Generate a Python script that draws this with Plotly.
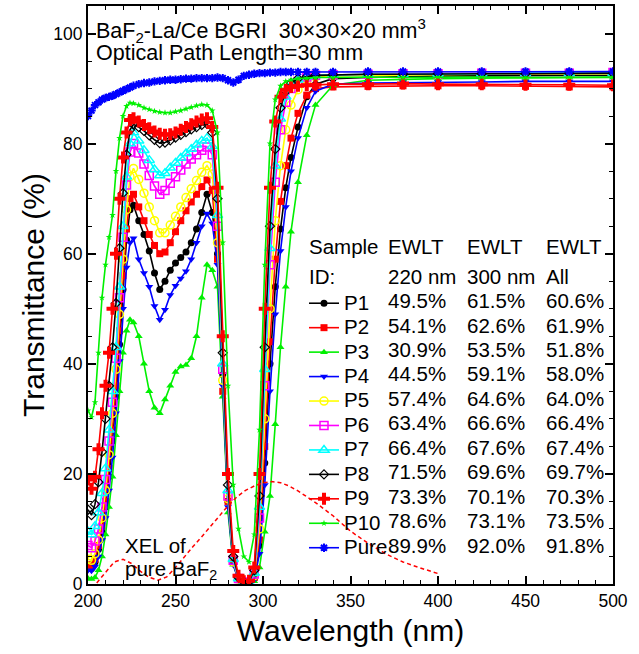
import plotly.graph_objects as go

# ---------------- data ----------------
wavelength = [200, 202, 204, 206, 208, 210, 212, 214, 216, 218, 220, 222, 224, 226,
              229, 232, 235, 238, 241, 244, 247, 250, 253, 256, 259, 262, 265, 268,
              271, 274, 277, 280, 283, 286, 289, 292, 295, 298, 301, 304, 307, 310, 313, 316,
              320, 325, 330, 340, 360, 380, 400, 425, 450, 475, 500]

p1 = [3, 2.8, 4, 6.3, 9.5, 14, 19.5, 26, 34, 43.5, 53.5, 62.5, 68, 68.8,
      66, 63.5, 60.5, 56.5, 53.5, 55, 57, 58.3, 59.3, 60.3, 62, 64.5, 67.5, 70.8,
      67.5, 60, 38, 15, 4, 0.8, 0.3, 0.3, 1, 7, 22, 40, 54, 64.5, 72, 77.5,
      83, 88.5, 90.8, 91.8, 92, 92.2, 92.3, 92.3, 92.4, 92.4, 92.4]
p2 = [3.5, 3.3, 4.5, 7, 10.5, 15, 21, 28, 36, 46, 56, 64.5, 70, 70.8,
      68.5, 66, 63.5, 61.5, 60, 60.3, 62, 64, 66, 67.8, 69.4, 70.8, 72.2, 73.4,
      71.5, 59, 35, 15, 4, 0.8, 0.3, 0.3, 1.2, 8, 25, 44, 59, 69.5, 76, 81,
      85.5, 88.8, 90, 90.3, 90.4, 90.5, 90.5, 90.5, 90.4, 90.3, 90.3]
p3 = [1, 0.9, 1.2, 2.5, 5, 9, 14, 19.5, 27, 35, 42, 46, 48, 47.5,
      45, 40, 35, 32, 31, 33.5, 36, 38.5, 39.5, 39.8, 41, 45, 52, 58,
      57, 54, 34, 13, 3.5, 0.7, 0.2, 0.2, 0.5, 3, 9.5, 16, 29, 43, 54, 64,
      73, 81.5, 87, 90.6, 91.5, 91.7, 91.8, 91.9, 91.9, 92, 92]
p4 = [2.5, 2.4, 3.2, 5, 8, 12, 17, 23, 31, 40.5, 50, 57.5, 62, 62.8,
      59, 56.5, 54, 50.5, 48, 49.8, 52.5, 54.2, 55.5, 56.8, 59, 62, 65, 67.3,
      65.5, 58, 36, 14, 3.5, 0.7, 0.2, 0.2, 0.8, 5.5, 18, 35, 49, 60.5, 68.5, 75,
      81, 86.5, 89.5, 90.8, 91, 91.1, 91.2, 91.2, 91.3, 91.3, 91.3]
p5 = [4.5, 4.3, 5.5, 8, 12, 17, 23.5, 31, 39, 49, 59, 68, 74, 75.5,
      73.5, 71, 68.5, 66, 63.8, 63.8, 65.2, 66.8, 68.5, 70.2, 71.8, 73.3, 74.8, 76,
      74.5, 62, 37, 15.5, 4, 0.9, 0.3, 0.3, 1.5, 10, 30, 50, 66, 76, 82.5, 87,
      89.8, 91.5, 92.1, 92.3, 92.4, 92.5, 92.5, 92.6, 92.6, 92.6, 92.7]
p6 = [7, 6.6, 7.8, 10, 14, 19, 26, 33, 41, 52, 63, 72.5, 78.5, 80,
      78.3, 76.3, 74.2, 72.3, 70.8, 71.5, 72.8, 74, 75.2, 76.3, 77.2, 78, 78.8, 79.4,
      78, 65, 39, 16, 4.3, 1, 0.3, 0.3, 1.8, 12, 36, 58, 73, 82.5, 87.5, 90,
      91.3, 92.1, 92.4, 92.5, 92.6, 92.7, 92.7, 92.8, 92.8, 92.8, 92.9]
p7 = [9.5, 9, 10.5, 13, 16.5, 21, 28, 35, 43, 54, 65, 74, 80, 82,
      80.5, 78.8, 77, 75.3, 74.2, 74.6, 75.6, 76.5, 77.4, 78.2, 79, 79.8, 80.5, 81,
      79.5, 67, 40, 17, 4.5, 1, 0.3, 0.3, 2, 14, 39, 61, 76, 84.5, 88.5, 90.5,
      91.6, 92.2, 92.4, 92.5, 92.6, 92.6, 92.7, 92.7, 92.8, 92.8, 92.8]
p8 = [13.5, 12.5, 14.5, 18.5, 24, 30, 36, 43, 51, 61, 71, 78, 82.5, 83.5,
      83, 82.3, 81.5, 80.7, 80.1, 80.2, 80.6, 81.1, 81.6, 82.1, 82.6, 83, 83.4, 83.6,
      82, 70, 42, 18, 5, 1.2, 0.4, 0.4, 2.5, 16, 43, 65, 79, 86.5, 89.5, 91,
      91.8, 92.2, 92.4, 92.5, 92.6, 92.6, 92.7, 92.7, 92.7, 92.8, 92.8]
p9 = [19, 17.3, 19.5, 24.5, 31, 36, 42, 50, 60, 70, 77.5, 82, 84.3, 84.6,
      84, 83.4, 82.8, 82.2, 81.8, 81.6, 81.7, 82, 82.5, 83, 83.5, 84, 84.4, 84.6,
      83, 72, 45, 20, 6, 1.5, 0.5, 0.6, 3, 20, 50, 72, 84, 88.5, 89.8, 90.3,
      90.5, 90.6, 90.7, 90.8, 90.8, 90.9, 90.8, 90.8, 90.7, 90.7, 90.6]
p10 = [31.5, 30.3, 33, 42, 52, 58, 63, 67, 75, 81, 85, 86.8, 87.4, 87.3,
       87, 86.5, 86.2, 85.9, 85.7, 85.6, 85.6, 85.8, 86, 86.3, 86.6, 86.9, 87.1, 87,
       86, 82, 62, 36, 18, 10, 5, 4, 9, 28, 58, 80, 88, 90.5, 91.3, 91.6,
       91.8, 91.9, 92, 92, 92.1, 92, 92.1, 92.1, 92, 92.1, 92.1]
pure = [85, 86, 87, 87.5, 88, 88.3, 88.5, 88.7, 89, 89.3, 89.6, 89.9, 90.2, 90.5,
        90.8, 91, 91.1, 91.3, 91.4, 91.5, 91.6, 91.6, 91.7, 91.8, 91.8, 91.9, 91.9, 91.9,
        91.9, 92, 91.9, 91.5, 91.1, 91.6, 92.3, 92.5, 92.7, 92.8, 92.8, 92.9, 92.9, 93, 93, 93,
        93, 93, 93, 93, 93.1, 93.1, 93.1, 93.1, 93.1, 93.1, 93.1]

xel_wavelength = [205, 210, 215, 220, 225, 230, 235, 240, 245, 250, 255, 260, 265, 270, 275,
                  280, 285, 290, 295, 300, 305, 310, 315, 320, 330, 340, 350, 360, 370, 380,
                  390, 400]
xel_intensity = [0.2, 2.2, 4.0, 4.5, 3.7, 2.3, 1.2, 0.7, 1.3, 3.0, 5.0, 6.8, 8.6, 10.5, 12.5,
                 14.2, 15.8, 17.0, 17.8, 18.4, 18.6, 18.4, 17.8, 16.9, 14.8, 12.4, 9.6, 7.4, 5.5,
                 4.0, 2.9, 1.9]

sample_ids = ["P1", "P2", "P3", "P4", "P5", "P6", "P7", "P8", "P9", "P10", "Pure"]
ewlt_220 = [49.5, 54.1, 30.9, 44.5, 57.4, 63.4, 66.4, 71.5, 73.3, 78.6, 89.9]
ewlt_300 = [61.5, 62.6, 53.5, 59.1, 64.6, 66.6, 67.6, 69.6, 70.1, 73.1, 92.0]
ewlt_all = [60.6, 61.9, 51.8, 58.0, 64.0, 66.4, 67.4, 69.7, 70.3, 73.5, 91.8]

series = [p1, p2, p3, p4, p5, p6, p7, p8, p9, p10, pure]

# ---------------- styles ----------------
GREEN = "#00f000"
styles = [
    dict(color="black", symbol="circle", size=7, lw=0),
    dict(color="#ff0000", symbol="square", size=7, lw=0),
    dict(color=GREEN, symbol="triangle-up", size=7, lw=0),
    dict(color="#0000ff", symbol="triangle-down", size=7, lw=0),
    dict(color="#ffff00", symbol="circle-open", size=8, lw=1.5),
    dict(color="#ff00ff", symbol="square-open", size=8, lw=1.5),
    dict(color="#00ffff", symbol="triangle-up-open", size=9, lw=1.5),
    dict(color="black", symbol="diamond-open", size=7, lw=1.2),
    dict(color="#ff0000", symbol="cross", size=10, lw=0),
    dict(color=GREEN, symbol="star", size=5, lw=0),
    dict(color="#0000ff", symbol="asterisk-open", size=7, lw=2),
]

FONT = "Liberation Sans, Arial, sans-serif"
TXT = 20.5
HEAD = 21.5

fig = go.Figure()
for name, vals, st in zip(sample_ids, series, styles):
    fig.add_trace(go.Scatter(
        x=wavelength, y=vals, mode="lines+markers",
        name=f'<span style="font-size:{TXT}px">{name}</span>',
        line=dict(color=st["color"], width=1.6),
        marker=dict(symbol=st["symbol"], size=st["size"], color=st["color"],
                    line=dict(color=st["color"], width=st["lw"])),
    ))

fig.add_trace(go.Scatter(
    x=xel_wavelength, y=xel_intensity, mode="lines", showlegend=False,
    line=dict(color="#ff0000", width=1.5, dash="4px,3px"),
))

# ---------------- layout helpers ----------------
L, R, T, B = 88, 26, 6, 70
W, H = 639, 654
PW, PH = W - L - R, H - T - B


def px2x(px):
    return (px - L) / PW


def py2y(py):
    return (H - B - py) / PH


annotations = []
annotations.append(dict(text="BaF<sub>2</sub>-La/Ce BGRI\u00a0\u00a030\u00d730\u00d720 mm<sup>3</sup>",
                        x=px2x(94), y=py2y(31), xanchor="left", yanchor="middle", size=HEAD))
annotations.append(dict(text="Optical Path Length=30 mm",
                        x=px2x(94), y=py2y(53), xanchor="left", yanchor="middle", size=HEAD))
annotations.append(dict(text="XEL of", x=px2x(123), y=py2y(545.5), xanchor="left", yanchor="middle", size=TXT))
annotations.append(dict(text="pure BaF<sub>2</sub>", x=px2x(123), y=py2y(570), xanchor="left",
                        yanchor="middle", size=TXT))

col_x = [386, 464.5, 543.5]
annotations.append(dict(text="Sample", x=px2x(307), y=py2y(247), xanchor="left", yanchor="middle", size=TXT))
annotations.append(dict(text="ID:", x=px2x(307), y=py2y(276), xanchor="left", yanchor="middle", size=TXT))
for cx in col_x:
    annotations.append(dict(text="EWLT", x=px2x(cx), y=py2y(247), xanchor="left", yanchor="middle", size=TXT))
for cx, t in zip(col_x, ["220 nm", "300 nm", "All"]):
    annotations.append(dict(text=t, x=px2x(cx), y=py2y(276), xanchor="left", yanchor="middle", size=TXT))
row0, drow = 300.7, 24.43
for i in range(len(sample_ids)):
    for cx, col in zip(col_x, [ewlt_220, ewlt_300, ewlt_all]):
        annotations.append(dict(text=f"{col[i]:.1f}%", x=px2x(cx), y=py2y(row0 + i * drow),
                                xanchor="left", yanchor="middle", size=TXT))

for a in annotations:
    s = a.pop("size")
    a.update(xref="paper", yref="paper", showarrow=False,
             font=dict(family=FONT, size=s, color="black"))

axis_common = dict(
    showline=True, linecolor="black", linewidth=2, mirror="ticks",
    ticks="inside", ticklen=8, tickwidth=1.5, tickcolor="black",
    showgrid=False, zeroline=False, automargin=False,
    tickfont=dict(family=FONT, size=17.5, color="black"),
)

fig.update_layout(
    width=W, height=H,
    margin=dict(l=L, r=R, t=T, b=B, autoexpand=False),
    paper_bgcolor="white", plot_bgcolor="white",
    font=dict(family=FONT, color="black"),
    xaxis=dict(range=[200, 500], dtick=50, tick0=200,
               minor=dict(dtick=10, ticks="inside", ticklen=4, tickwidth=1.2, tickcolor="black"),
               title=dict(text="Wavelength (nm)", font=dict(family=FONT, size=30), standoff=10),
               **axis_common),
    yaxis=dict(range=[0, 105], dtick=20, tick0=0,
               minor=dict(dtick=5, ticks="inside", ticklen=4, tickwidth=1.2, tickcolor="black"),
               title=dict(text="Transmittance (%)", font=dict(family=FONT, size=30), standoff=0),
               **axis_common),
    legend=dict(x=px2x(304), y=py2y(286), xanchor="left", yanchor="top",
                bgcolor="rgba(0,0,0,0)", borderwidth=0,
                font=dict(family=FONT, size=16.5, color="black"),
                itemwidth=30, tracegroupgap=0),
    annotations=annotations,
    showlegend=True,
)

fig.write_html("out.html", config={"displayModeBar": False},
               post_script="document.body.style.margin='0';document.body.style.padding='0';")
